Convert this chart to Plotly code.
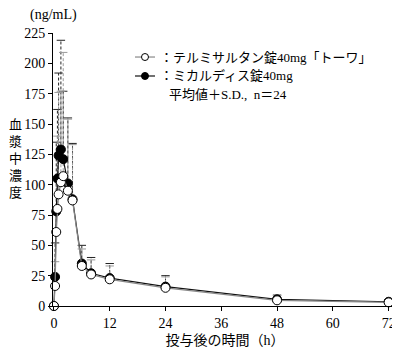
import plotly.graph_objects as go

time_h = [0, 0.25, 0.5, 0.75, 1, 1.5, 2, 3, 4, 6, 8, 12, 24, 48, 72]
telmi_mean = [0, 16.5, 61, 80, 92, 102, 107, 95, 87, 33, 26, 22, 15, 4.7, 3.0]
telmi_sd = [0, 20, 45, 60, 84, 75, 102, 59, 46, 14, 12, 11, 9, 4, 2]
micardis_mean = [0, 24, 78, 105, 124, 129, 121, 101, 88, 35, 27, 23, 16, 5.5, 3.5]
micardis_sd = [0, 28, 57, 57, 68, 90, 56, 54, 46, 15, 13, 12, 9, 3.5, 1.5]

x_ticks = [0, 12, 24, 36, 48, 60, 72]
y_ticks = [0, 25, 50, 75, 100, 125, 150, 175, 200, 225]

name_telmi = "：テルミサルタン錠40mg「トーワ」"
name_micardis = "：ミカルディス錠40mg"
note_text = "平均値＋S.D.,  n＝24"
y_title = "血漿中濃度"
unit_text = "(ng/mL)"
x_title = "投与後の時間（h）"

FONT = "Liberation Serif, Noto Sans CJK JP, serif"

fig = go.Figure()


def sd_trace(mean, sd, color, dash):
    xs, ys = [], []
    for t, m, s in zip(time_h, mean, sd):
        if s > 0:
            xs += [t, t, None]
            ys += [m, m + s, None]
    return go.Scatter(x=xs, y=ys, mode="lines", showlegend=False,
                      line=dict(color=color, width=1, dash=dash),
                      hoverinfo="skip", cliponaxis=False)


def cap_trace(mean, sd, color):
    xs = [t for t, s in zip(time_h, sd) if s > 0]
    ys = [m + s for m, s in zip(mean, sd) if s > 0]
    return go.Scatter(x=xs, y=ys, mode="markers", showlegend=False,
                      marker=dict(symbol="line-ew", size=6,
                                  line=dict(color=color, width=1)),
                      hoverinfo="skip", cliponaxis=False)


fig.add_trace(sd_trace(micardis_mean, micardis_sd, "#222222", "3px,2px"))
fig.add_trace(cap_trace(micardis_mean, micardis_sd, "#222222"))
fig.add_trace(sd_trace(telmi_mean, telmi_sd, "#999999", "3px,2px"))
fig.add_trace(cap_trace(telmi_mean, telmi_sd, "#999999"))

fig.add_trace(go.Scatter(
    x=time_h, y=micardis_mean, mode="lines+markers", name=name_micardis,
    line=dict(color="#111111", width=1.2),
    marker=dict(symbol="circle", size=9, color="black",
                line=dict(color="black", width=1)),
    showlegend=False, cliponaxis=False))
fig.add_trace(go.Scatter(
    x=time_h, y=telmi_mean, mode="lines+markers", name=name_telmi,
    line=dict(color="#888888", width=1.2),
    marker=dict(symbol="circle", size=9, color="white",
                line=dict(color="black", width=1)),
    showlegend=False, cliponaxis=False))

# page body has an 8px margin: figure is 392 wide and ends at x=400
fig.update_layout(
    width=392, height=340,
    margin=dict(l=45, r=3, t=25, b=42, autoexpand=False),
    paper_bgcolor="white", plot_bgcolor="white",
    font=dict(family=FONT, size=13, color="black"),
    showlegend=False,
    xaxis=dict(range=[-0.2, 73.8], tickvals=x_ticks, ticktext=[str(v) for v in x_ticks],
               showline=True, linecolor="black", linewidth=1,
               ticks="outside", ticklen=4, tickcolor="black",
               showgrid=False, zeroline=False, automargin=False,
               tickfont=dict(size=14, family=FONT),
               title=dict(text=x_title, font=dict(size=14, family=FONT), standoff=8)),
    yaxis=dict(range=[0, 225], tickvals=y_ticks, ticktext=[str(v) for v in y_ticks],
               showline=True, linecolor="black", linewidth=1,
               ticks="outside", ticklen=4, tickcolor="black",
               showgrid=False, zeroline=False, automargin=False,
               tickfont=dict(size=14, family=FONT)),
)

# manual legend
legend_rows = [
    (0.912, name_telmi, "#888888", "white"),
    (0.8425, name_micardis, "#111111", "black"),
]
for yp, label, lcol, fcol in legend_rows:
    fig.add_shape(type="line", xref="paper", yref="paper",
                  x0=0.2384, x1=0.2965, y0=yp, y1=yp,
                  line=dict(color=lcol, width=1.2))
    fig.add_shape(type="circle", xref="paper", yref="paper",
                  xsizemode="pixel", ysizemode="pixel",
                  xanchor=0.2674, yanchor=yp,
                  x0=-3.5, x1=3.5, y0=-3.5, y1=3.5,
                  fillcolor=fcol, line=dict(color="black", width=1))
    fig.add_annotation(text=label, xref="paper", yref="paper",
                       x=0.305, y=yp, xanchor="left", yanchor="middle",
                       showarrow=False, font=dict(size=13, family=FONT))

fig.add_annotation(text=note_text, xref="paper", yref="paper",
                   x=0.331, y=0.773, xanchor="left", yanchor="middle",
                   showarrow=False, font=dict(size=13, family=FONT))

fig.add_annotation(text="<br>".join(list(y_title)), xref="paper", yref="paper",
                   x=-0.11, y=0.54, xanchor="center", yanchor="middle",
                   showarrow=False, font=dict(size=13, family=FONT))
fig.add_annotation(text=unit_text, xref="paper", yref="paper",
                   x=-0.073, y=1.066, xanchor="left", yanchor="middle",
                   showarrow=False, font=dict(size=14, family=FONT))

fig.write_html("out.html")
